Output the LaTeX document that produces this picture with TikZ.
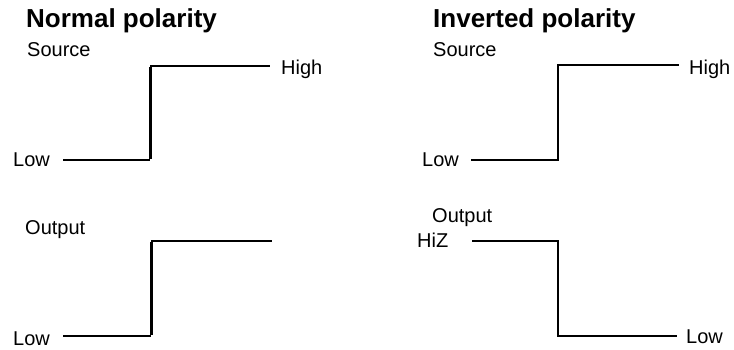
\documentclass[tikz,border=0pt]{standalone}
\usepackage{fontspec}
\setmainfont{Liberation Sans}
\begin{document}
\begin{tikzpicture}[x=1pt,y=-1pt,
  lbl/.style={anchor=base west,inner sep=0pt,font=\fontsize{20}{24}\selectfont},
  ttl/.style={anchor=base west,inner sep=0pt,font=\fontsize{26}{30}\selectfont\bfseries},
  wave/.style={line width=2pt,line join=miter},
  edge/.style={line width=3pt}]
\useasboundingbox (0,0) rectangle (734,349);
% titles
\node[ttl] (t1) at (26,27) {Normal polarity};
\node[ttl] (t2) at (433,27) {Inverted polarity};
% left source
\node[lbl] (s1) at (27,56) {Source};
\node[lbl] (h1) at (281,74) {High};
\node[lbl] (l1) at (13,166) {Low};
\coordinate (a1) at (63,160);
\coordinate (b1) at (150,160);
\coordinate (c1) at (150,66);
\coordinate (d1) at (270,66);
\draw[wave] (a1) -- (b1);
\draw[wave] (c1) -- (d1);
\draw[edge] ([yshift=1pt]b1) -- ([yshift=-1pt]c1);
% left output
\node[lbl] (o1) at (25,234) {Output};
\node[lbl] (l2) at (13,345) {Low};
\coordinate (a2) at (63,336);
\coordinate (b2) at (151,336);
\coordinate (c2) at (151,241);
\coordinate (d2) at (272,241);
\draw[wave] (a2) -- (b2);
\draw[wave] (c2) -- (d2);
\draw[edge] ([yshift=1pt]b2) -- ([yshift=-1pt]c2);
% right source
\node[lbl] (s2) at (433,56) {Source};
\node[lbl] (h2) at (689,74) {High};
\node[lbl] (l3) at (422,166) {Low};
\coordinate (a3) at (471,160);
\coordinate (b3) at (558,160);
\coordinate (c3) at (558,65);
\coordinate (d3) at (679,65);
\draw[wave] (a3) -- (b3) -- (c3) -- (d3);
% right output
\node[lbl] (o2) at (432,222) {Output};
\node[lbl] (hz) at (417,247) {HiZ};
\node[lbl] (l4) at (686,343) {Low};
\coordinate (a4) at (472,241);
\coordinate (b4) at (558,241);
\coordinate (c4) at (558,336);
\coordinate (d4) at (677,336);
\draw[wave] (a4) -- (b4) -- (c4) -- (d4);
\end{tikzpicture}
\end{document}
